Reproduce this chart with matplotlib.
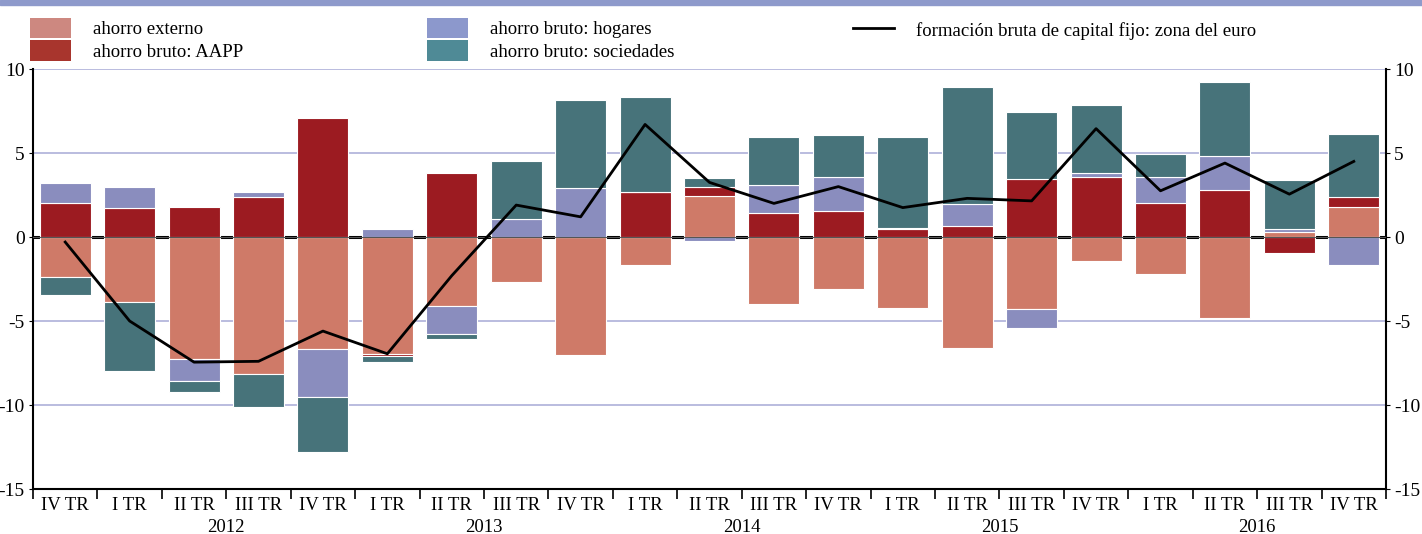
import numpy as np
import matplotlib.pyplot as plt
from matplotlib.patches import Patch
from matplotlib.lines import Line2D
import matplotlib.transforms as mtransforms

plt.rcParams['font.family'] = ['Liberation Serif', 'DejaVu Serif']
plt.rcParams['axes.unicode_minus'] = False

# quarters (first one is IV TR 2011)
quarters = ['IV TR', 'I TR', 'II TR', 'III TR', 'IV TR',
            'I TR', 'II TR', 'III TR', 'IV TR',
            'I TR', 'II TR', 'III TR', 'IV TR',
            'I TR', 'II TR', 'III TR', 'IV TR',
            'I TR', 'II TR', 'III TR', 'IV TR']
years = ['2012', '2013', '2014', '2015', '2016']

externo = [-2.4, -3.85, -7.25, -8.15, -6.65, -6.95, -4.1, -2.7, -7.0,
           -1.65, 2.45, -4.0, -3.1, -4.2, -6.6, -4.3, -1.45, -2.2, -4.85,
           0.3, 1.8]
aapp = [2.0, 1.75, 1.8, 2.4, 7.1, -0.15, 3.8, 0.0, 0.0,
        2.7, 0.55, 1.4, 1.55, 0.5, 0.65, 3.45, 3.6, 2.0, 2.8,
        -0.95, 0.6]
hogares = [1.2, 1.2, -1.35, 0.25, -2.9, 0.45, -1.7, 1.1, 2.9,
           0.0, -0.25, 1.7, 2.05, 0.05, 1.3, -1.1, 0.2, 1.55, 2.05,
           0.2, -1.65]
sociedades = [-1.05, -4.1, -0.6, -1.95, -3.25, -0.35, -0.3, 3.45, 5.25,
              5.65, 0.5, 2.85, 2.45, 5.4, 6.95, 4.0, 4.05, 1.4, 4.35,
              2.9, 3.75]
fbcf = [-0.3, -5.0, -7.45, -7.4, -5.6, -6.95, -2.3, 1.9, 1.2,
        6.7, 3.25, 2.0, 3.0, 1.75, 2.3, 2.15, 6.45, 2.75, 4.4,
        2.55, 4.5]

series = [externo, aapp, hogares, sociedades]
colors = ['#CF7A68', '#9C1B21', '#8A8DBE', '#47737A']
legend_colors = ['#CD8880', '#A8352D', '#8C98CC', '#4F8A96']
labels = ['ahorro externo', 'ahorro bruto: AAPP', 'ahorro bruto: hogares',
          'ahorro bruto: sociedades']

W, H = 1422, 534
fig = plt.figure(figsize=(W / 100, H / 100), dpi=100)
ax = fig.add_axes([33 / W, 45 / H, 1353 / W, 420 / H])

x = np.arange(len(quarters))
pos_base = np.zeros(len(x))
neg_base = np.zeros(len(x))
for vals, c in zip(series, colors):
    v = np.array(vals)
    base = np.where(v >= 0, pos_base, neg_base)
    ax.bar(x, v, bottom=base, width=0.79, color=c, edgecolor='white',
           linewidth=0.8, zorder=3)
    pos_base += np.where(v >= 0, v, 0)
    neg_base += np.where(v < 0, v, 0)

ax.plot(x, fbcf, color='black', lw=2.0, zorder=5)
ax.axhline(0, color='black', lw=2.2, zorder=2)
ax.axhline(0, color='#555555', lw=0.8, zorder=4)

for yv in [-10, -5, 5, 10]:
    ax.axhline(yv, color='#B4B6DC', lw=1.3, zorder=1)

ax.set_xlim(-0.5, len(x) - 0.5)
ax.set_ylim(-15, 10)
ax.set_yticks([-15, -10, -5, 0, 5, 10])
ax.tick_params(axis='y', which='both', labelsize=14, length=3,
               left=True, right=True, labelleft=True, labelright=True, pad=3)

ax.set_xticks(x)
ax.set_xticklabels(quarters, fontsize=13.5)
ax.tick_params(axis='x', which='major', length=0, pad=6)
ax.set_xticks(np.arange(-0.5, len(x), 1.0), minor=True)
ax.tick_params(axis='x', which='minor', length=7, width=1.2)

for s in ['left', 'right', 'bottom']:
    ax.spines[s].set_linewidth(1.5)
ax.spines['top'].set_visible(False)

trans = mtransforms.blended_transform_factory(ax.transData, fig.transFigure)
for i, yr in enumerate(years):
    ax.text(2.5 + 4 * i, 1 - 527 / H, yr, transform=trans, ha='center',
            va='center', fontsize=13.5)

# legend
fs = 13.5
leg_kw = dict(loc='upper left', frameon=False, fontsize=fs,
              handlelength=2.2, handleheight=1.3, handletextpad=1.15,
              labelspacing=0.1, borderpad=0, borderaxespad=0)
handles = [Patch(facecolor=c) for c in legend_colors]
fig.legend(handles[:2], labels[:2], bbox_to_anchor=(30 / W, 1 - 18 / H),
           **leg_kw)
fig.legend(handles[2:], labels[2:], bbox_to_anchor=(427 / W, 1 - 18 / H),
           **leg_kw)
fig.legend([Line2D([0], [0], color='black', lw=2)],
           ['formación bruta de capital fijo: zona del euro'],
           bbox_to_anchor=(853 / W, 1 - 20 / H), **leg_kw)

# top band
fig.patches.append(plt.Rectangle((0, 1 - 5 / H), 1, 5 / H,
                                 transform=fig.transFigure,
                                 color='#8E9ACB', zorder=0))

fig.savefig('out.png', dpi=100)
